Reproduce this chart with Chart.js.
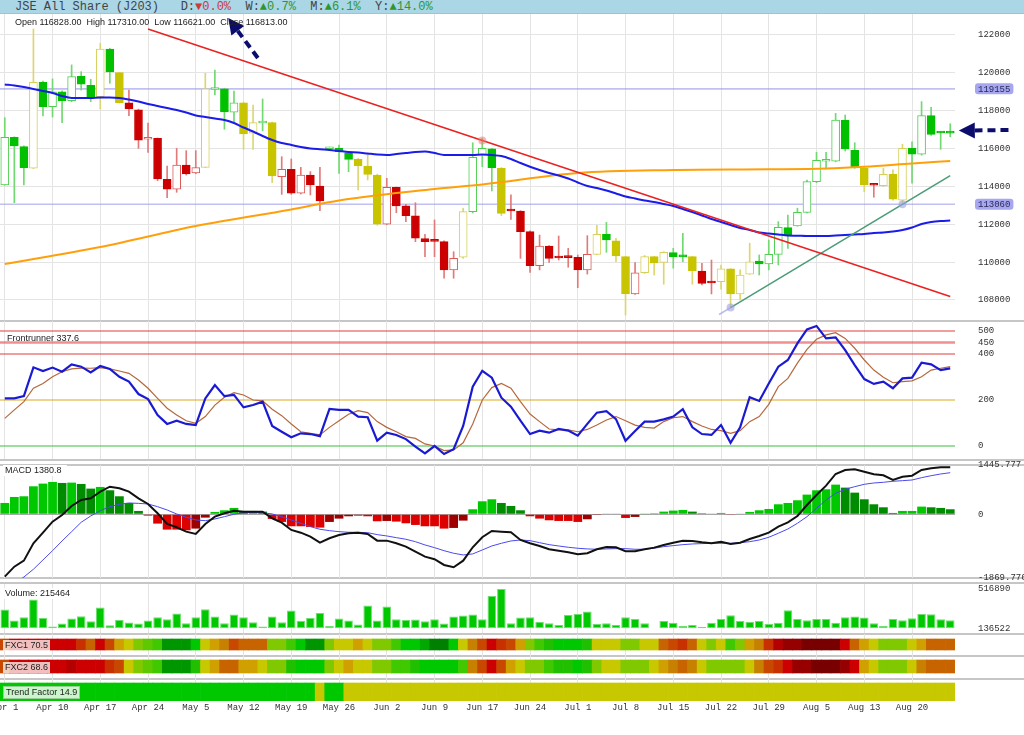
<!DOCTYPE html>
<html>
<head>
<meta charset="utf-8">
<script src="https://cdn.jsdelivr.net/npm/chart.js@4.4.1/dist/chart.umd.min.js"></script>
<style>
  body { margin: 0; width: 1024px; height: 735px; background: #fff; overflow: hidden; position: relative;
         font-family: "Liberation Sans", Arial, sans-serif; }
  #hdr { position: absolute; left: 0; top: 0; width: 1024px; height: 14px; background: #aad6e6;
         border-bottom: 1px solid #9cc4d4; box-sizing: border-box; padding-left: 15px;
         font: 12px/14px "Liberation Mono", "DejaVu Sans Mono", monospace; color: #444; white-space: pre; }
  #hdr .up { color: #2f962f; }
  #hdr .dn { color: #cc3a3a; }
  .sep { position: absolute; left: 0; width: 1024px; height: 2px; background: #c6c6c6; }
  .lbl { position: absolute; font-size: 9px; line-height: 11px; color: #222; white-space: pre; padding: 0 2px; }
  canvas { position: absolute; left: 0; }
</style>
</head>
<body>
<div id="hdr"></div>
<div class="sep" style="top:320px"></div>
<div class="sep" style="top:459px"></div>
<div class="sep" style="top:464px"></div>
<div class="sep" style="top:577px"></div>
<div class="sep" style="top:582px"></div>
<div class="sep" style="top:633px"></div>
<div class="sep" style="top:655px"></div>
<div class="sep" style="top:678px"></div>
<script>
// ---- data ----
const title = 'JSE All Share (J203)';
const changeNames = ['D', 'W', 'M', 'Y'];
const changeValues = [0.0, 0.7, 6.1, 14.0];
const changeDir = [-1, 1, 1, 1];

const tickLabels = ['Apr 1','Apr 10','Apr 17','Apr 24','May 5','May 12','May 19','May 26','Jun 2','Jun 9',
                    'Jun 17','Jun 24','Jul 1','Jul 8','Jul 15','Jul 22','Jul 29','Aug 5','Aug 13','Aug 20'];
const tickEvery = 5;

const opens = [114080,116600,116100,114960,119500,118210,119000,118530,119820,119340,
  118740,121260,120010,118410,118050,116490,116540,114380,113850,115130,
  114710,115010,119120,119150,117920,118420,116810,117350,117370,114510,
  114900,113640,114600,114020,115990,116010,115780,115430,115080,114600,
  112000,113950,112970,112440,111240,111110,111080,109590,110260,112670,
  115660,115980,114960,112720,112700,111610,109810,110850,110240,110260,
  110260,109590,110410,111470,111130,110290,108320,109440,110290,109990,
  110500,110300,110290,109530,108920,108970,109640,108320,109370,110060,
  109900,110410,111820,111910,112630,114250,115330,115340,117510,115910,
  114960,114080,114040,114640,113280,116010,115700,117740,116830,116828];
const highs = [117630,116620,116150,122320,119560,119680,119050,120420,120060,119660,
  121560,121300,120030,119090,118080,117340,116560,115080,116010,115890,
  115890,119980,120150,119180,119040,118450,118300,118620,117400,115570,
  115450,115010,114780,115010,116080,116190,115800,115480,115710,114650,
  114430,113970,113060,113140,111470,112230,111120,110550,112850,116310,
  116540,116010,115000,113550,112720,111650,111430,110870,111380,110730,
  110380,111400,111950,112100,111260,110300,109970,110350,110300,110550,
  110730,111520,110300,109940,110110,109850,109650,109590,111000,110380,
  111170,112140,112490,112850,114340,115800,115800,117860,117770,116310,
  115000,114130,114960,114870,116230,116360,118480,118180,116890,117310];
const lows = [114060,113140,114080,114940,117720,117670,117370,118480,119090,118480,
  118090,119450,118400,117740,116010,115800,114300,113400,113690,114600,
  114670,114990,118830,117020,117340,115960,115960,116940,114200,113580,
  113580,113600,113550,112720,115900,114690,114780,113810,114340,111950,
  111980,112610,112140,111080,110290,110290,109150,109150,110200,112600,
  115040,113760,112450,112260,110200,109460,109590,109990,110110,109730,
  108650,109370,110400,110520,110020,107210,108300,109400,109320,108830,
  109680,110020,108830,108790,108320,108570,107600,108000,109350,109320,
  109590,109850,110730,111900,112600,114200,114920,115300,115870,114960,
  113720,113430,114000,113280,113060,114170,115650,116700,115960,116621];
const closes = [116600,116140,114990,119500,118210,119000,118530,119800,119400,118740,
  121260,120050,118420,118090,116450,116570,114390,113860,115130,114660,
  114990,119150,119160,117930,118420,116770,117370,117370,114570,114900,
  113640,114600,114080,113230,116010,115840,115430,115100,114640,112010,
  113950,112970,112450,111260,111080,111100,109590,110200,112670,115540,
  116010,114990,112580,112700,111610,109810,110850,110200,110220,110240,
  109590,110410,111470,111170,110330,108320,109440,110290,109970,110520,
  110290,110280,109550,108880,108900,109640,108320,109320,110020,109900,
  110410,111840,111430,112630,114250,115380,115360,117510,115980,115040,
  114080,114060,114640,113320,116010,115700,117740,116750,116820,116813];
const candleTrend = ('gggygggggg' + 'ygyrrrrrrr' + 'rygggyygyr' + 'rrrrgggyyy' + 'rrrrrrrryg' +
                     'ggyrrrrrrr' + 'rrygyyryyy' + 'ggyrryyyyg' + 'gggggggggg' + 'yryyyggggg').split('');

const maBlue = [119385,119332,119253,119147,119042,118936,118778,118672,118672,118672,
  118698,118698,118672,118592,118487,118355,118249,118143,118038,117906,
  117747,117668,117589,117510,117351,117113,116902,116664,116453,116294,
  116189,116083,116004,115962,115925,115872,115819,115793,115740,115687,
  115660,115713,115766,115819,115845,115766,115660,115660,115660,115660,
  115687,115660,115607,115449,115238,115042,114868,114709,114577,114419,
  114208,114023,113917,113785,113627,113468,113362,113257,113178,113072,
  112966,112808,112649,112464,112279,112121,111962,111804,111698,111566,
  111513,111461,111408,111397,111381,111381,111381,111408,111434,111461,
  111487,111540,111566,111619,111698,111830,112015,112121,112174,112200];
const maOrangeIdx = [0, 10, 20, 30, 35, 45, 50, 60, 70, 80, 86, 90, 95, 99];
const maOrangeVal = [109902,110800,111910,112781,113257,113864,114102,114709,114868,114905,114947,115037,115211,115343];

const levelLines = [119155, 113060];
const resistLine = { idx: [15, 99], val: [122317, 108190] };
const supportLine = { idx: [76, 99], val: [107600, 114568] };
const supportStub = { idx: [74.8, 76], val: [107236, 107600] };
const touchIdx = [50, 76, 94];
const touchVal = [116430, 107600, 113060];
const touchKind = ['res', 'sup', 'sup'];
const arrows = [ { from: [26.5, 120785], to: [23.4, 122900] },
                 { from: [105.1, 116980], to: [99.9, 116950] } ];
const priceTicks = [108000, 110000, 112000, 114000, 116000, 118000, 120000, 122000];

const frBlue = [207,207,217,342,326,341,323,355,345,320,
  348,335,301,280,226,204,135,96,110,96,
  91,207,265,217,222,168,178,193,87,62,
  38,55,52,43,161,157,157,128,125,23,
  58,48,30,-3,-32,0,-35,-14,87,258,
  327,297,210,171,110,52,67,58,74,67,
  45,96,145,152,117,23,65,106,106,116,
  128,160,81,52,48,91,14,81,212,196,
  272,345,374,446,507,522,468,472,417,352,
  291,270,280,251,294,297,362,355,330,337.6];
const frBrown = [120,157,193,251,272,301,323,335,339,338,
  341,335,326,316,287,251,207,164,135,110,
  99,128,178,212,232,222,200,196,160,132,
  96,62,55,48,81,110,138,154,145,106,
  81,62,41,33,9,0,-20,-17,14,96,
  200,254,272,251,193,139,106,74,70,70,
  62,72,91,113,128,110,91,81,78,106,
  123,128,106,87,72,67,55,67,106,128,
  181,258,294,360,420,464,483,493,468,425,
  374,330,299,275,280,283,301,330,338,345];
const frLevels = [500, 450, 400, 200, 0];

const macdLine = [-1830,-1537,-1361,-851,-540,-217,-21,243,419,469,
  663,810,763,663,469,302,29,-284,-381,-510,
  -578,-284,-70,29,106,76,76,76,-117,-246,
  -460,-540,-657,-833,-704,-607,-557,-540,-578,-774,
  -774,-851,-950,-1097,-1244,-1320,-1487,-1554,-1361,-968,
  -675,-490,-510,-528,-754,-851,-930,-1027,-1068,-1115,
  -1173,-1144,-1027,-959,-968,-1085,-1085,-1027,-979,-900,
  -833,-774,-784,-821,-851,-804,-871,-833,-724,-636,
  -540,-364,-235,-50,273,566,839,1182,1299,1320,
  1249,1173,1144,1006,1103,1132,1299,1349,1379,1380.8];
const macdSignal = [-2160,-2045,-1840,-1613,-1340,-1068,-783,-510,-235,-50,
  106,223,293,331,320,302,223,126,9,-88,
  -167,-188,-138,-70,0,47,56,47,9,-70,
  -167,-264,-364,-440,-481,-510,-528,-528,-540,-597,
  -636,-686,-733,-804,-900,-979,-1068,-1144,-1194,-1164,
  -1047,-930,-851,-783,-754,-774,-833,-891,-930,-968,
  -997,-1017,-1027,-1017,-1008,-1008,-1027,-1027,-997,-950,
  -920,-891,-871,-861,-851,-851,-851,-833,-804,-754,
  -675,-557,-431,-264,-70,176,419,616,733,810,
  880,918,938,968,986,1006,1074,1132,1182,1220];
const macdHist = [332,508,528,821,900,948,919,929,890,753,
  802,704,528,332,98,-39,-274,-450,-450,-469,
  -420,-98,68,117,186,98,98,78,-137,-225,
  -352,-352,-372,-391,-225,-127,-59,-39,-59,-205,
  -196,-215,-264,-313,-352,-352,-420,-401,-186,147,
  381,440,332,244,117,-59,-127,-176,-196,-196,
  -225,-147,-5,20,20,-108,-78,5,29,78,
  108,127,78,29,10,39,-20,10,68,117,
  156,293,332,411,577,704,733,870,782,635,
  440,293,205,39,98,98,225,205,186,147];
const macdTicks = [-1869.776, 0, 1445.777];

const volume = [318900,211600,243800,416400,237000,153100,182400,231100,253600,204800,
  338400,165800,217500,192100,182400,211600,243800,224300,279900,185300,
  243800,321800,250600,185300,270100,243800,195000,153100,250600,195000,
  309100,208700,237000,285700,159000,231100,211600,172600,357900,211600,
  348200,224300,217500,220800,204800,224300,182400,250600,260400,270100,
  224300,448600,516890,185300,240200,243800,198000,185300,168700,266200,
  276000,298400,178500,185300,168700,243800,227200,185300,136522,207700,
  191100,159000,168700,149200,191100,227200,263300,207700,198000,207700,
  178500,191100,312100,227200,214500,227200,227200,191100,243800,249700,
  240200,185300,159000,227200,214500,234100,276000,273100,224300,215464];

const fxc1 = [5,3,3,3,3,3,3,3,4,6, 3,5,8,9,10,11,12,16,16,16, 14,9,8,7,5,6,6,6,10,10,
  12,14,16,16,10,9,9,8,9,10, 10,12,14,14,15,17,17,14,9,7, 5,3,4,5,8,10,12,13,14,14,
  14,13,9,9,9,10,10,9,9,6, 5,4,6,9,10,9,12,10,8,7, 4,2,1,1,0,0,0,0,3,6, 8,9,10,10,10,9,8,6,6,6];
const fxc2 = [5,3,3,3,3,3,3,2,3,3, 3,4,5,9,10,11,12,16,16,16, 13,9,8,6,6,8,8,9,10,10,
  13,14,14,14,10,9,8,9,9,10, 10,12,12,13,14,14,14,14,12,7, 5,3,5,8,9,10,10,12,13,13,
  14,13,10,9,9,10,10,10,9,8, 7,6,7,9,10,10,10,10,9,7, 5,4,3,1,1,0,0,0,1,3, 8,9,10,10,10,9,7,6,6,6];
const trendFactor = [14,14,14,14,14,14,14,14,14,14, 14,14,14,14,14,14,14,14,14,14, 14,14,14,14,14,14,14,14,14,14,
  14,14,14,9,14,14,9,9,9,9, 9,9,9,9,9,9,9,9,9,9, 9,9,9,9,9,9,9,9,9,9,
  9,9,9,9,9,9,9,9,9,9, 9,9,9,9,9,9,9,9,9,9, 9,9,9,9,9,9,9,9,9,9, 9,9,9,9,9,9,9,9,9,9];
const fxcLabels = ['FXC1 70.5', 'FXC2 68.6', 'Trend Factor 14.9'];

// ---- styles ----
const MONO = '"Liberation Mono", "DejaVu Sans Mono", monospace';
const palette = ['#780000','#960000','#b40000','#cc0000','#c83000','#c84800','#c86400','#c88000','#d0a000',
                 '#c8c800','#80c800','#60c800','#40c800','#20c000','#00c800','#00a800','#009600','#008000'];
const candleStyle = {
  g: { fill: '#00c000', line: '#4fcf4f', wick: '#72d872' },
  y: { fill: '#c8c400', line: '#d6d05a', wick: '#dcd672' },
  r: { fill: '#cc0000', line: '#dc5a5a', wick: '#e27a7a' }
};
const frLevelStyle = [['#e03c3c', 1.2], ['rgba(228,70,70,0.6)', 2.6], ['#e03c3c', 1.2], ['#dcaa1e', 1.2], ['#3cbc3c', 1.2]];

Chart.defaults.animation = false;
Chart.defaults.font.family = MONO;
Chart.defaults.font.size = 9;
Chart.defaults.color = '#333';

// ---- header and labels ----
document.getElementById('hdr').innerHTML = title + ' ' + changeNames.map((n, k) =>
  '  ' + n + ':<span class="' + (changeDir[k] < 0 ? 'dn' : 'up') + '">' +
  (changeDir[k] < 0 ? '\u25BC' : '\u25B2') + changeValues[k].toFixed(1) + '%</span>').join('');

const last = opens.length - 1;
function addLabel(text, left, top, extra) {
  const d = document.createElement('div');
  d.className = 'lbl';
  d.textContent = text;
  d.style.left = left + 'px';
  d.style.top = top + 'px';
  if (extra) Object.assign(d.style, extra);
  return d;
}
const overlays = [
  addLabel('Open ' + opens[last].toFixed(2) + '  High ' + highs[last].toFixed(2) + '  Low ' + lows[last].toFixed(2) +
           '  Close ' + closes[last].toFixed(2), 13, 17),
  addLabel('Frontrunner ' + frBlue[last].toFixed(1), 5, 333),
  addLabel('MACD ' + macdLine[last].toFixed(1), 3, 465, { background: '#fff', paddingRight: '5px' }),
  addLabel('Volume: ' + volume[last], 3, 588, { background: 'rgba(255,255,255,0.85)' }),
  addLabel(fxcLabels[0], 3, 640, { background: 'rgba(255,255,255,0.75)' }),
  addLabel(fxcLabels[1], 3, 662, { background: 'rgba(255,255,255,0.75)' }),
  addLabel(fxcLabels[2], 3, 686, { background: 'rgba(225,250,225,0.9)', border: '1px solid #9c9' })
];

// ---- helpers ----
const tickIdx = tickLabels.map((_, k) => k * tickEvery);
const xy = arr => arr.map((v, i) => ({ x: i, y: v }));
const pts = ln => ln.idx.map((t, k) => ({ x: t, y: ln.val[k] }));
const span = v => [{ x: -0.5, y: v }, { x: last + 0.5, y: v }];
const noPad = s => { s.paddingTop = 0; s.paddingBottom = 0; s.paddingLeft = 0; s.paddingRight = 0; };

function makeCanvas(top, height) {
  const c = document.createElement('canvas');
  c.width = 1024; c.height = height;
  c.style.top = top + 'px'; c.style.width = '1024px'; c.style.height = height + 'px';
  document.body.appendChild(c);
  return c;
}
function xAxis(labels) {
  return {
    type: 'linear', min: -0.5, max: last + 0.5, offset: false,
    afterBuildTicks: s => { s.ticks = tickIdx.map(v => ({ value: v })); },
    afterFit: s => { noPad(s); if (labels) s.height = 14; },
    grid: { color: '#e4e4e4', drawTicks: false, offset: false },
    border: { display: false },
    ticks: labels ? { display: true, padding: 1, autoSkip: false, maxRotation: 0, color: '#333',
                      font: { family: MONO, size: 9 }, callback: v => tickLabels[v / tickEvery] || '' }
                  : { display: false }
  };
}
function yAxis(min, max, ticks, fmt, gridColor, reverse) {
  return {
    position: 'right', min, max, reverse: !!reverse,
    afterFit: s => { noPad(s); s.width = 69; },
    afterBuildTicks: s => { s.ticks = ticks.map(v => ({ value: v })); },
    grid: { display: !!gridColor, color: gridColor, drawTicks: false },
    border: { display: false },
    ticks: fmt ? { padding: 23, color: '#333', font: { family: MONO, size: 9 }, callback: fmt } : { display: false }
  };
}
function opts(x, y, padTop, padBottom) {
  return {
    responsive: false, animation: false,
    layout: { autoPadding: false, padding: { top: padTop, bottom: padBottom, left: 0, right: 0 } },
    plugins: { legend: { display: false }, tooltip: { enabled: false } },
    scales: { x, y }
  };
}

// ---- price panel ----
const priceDecor = {
  id: 'priceDecor',
  afterDraw(chart) {
    const { ctx, chartArea, scales: { x, y } } = chart;
    ctx.save();
    ctx.font = '9px ' + MONO;
    ctx.textBaseline = 'middle';
    levelLines.forEach(v => {
      const py = y.getPixelForValue(v);
      const txt = String(v);
      const w = ctx.measureText(txt).width + 6;
      const bx = chartArea.right + 20;
      ctx.fillStyle = 'rgba(150,150,238,0.85)';
      ctx.beginPath();
      ctx.roundRect(bx, py - 5.5, w, 11, 3);
      ctx.fill();
      ctx.fillStyle = '#2a2a55';
      ctx.fillText(txt, bx + 3, py + 0.5);
    });
    ctx.strokeStyle = '#0c0c6c';
    ctx.fillStyle = '#0c0c6c';
    arrows.forEach(a => {
      const x1 = x.getPixelForValue(a.from[0]), y1 = y.getPixelForValue(a.from[1]);
      const x2 = x.getPixelForValue(a.to[0]), y2 = y.getPixelForValue(a.to[1]);
      const ang = Math.atan2(y2 - y1, x2 - x1);
      const head = 16, half = 8;
      const bx = x2 - head * Math.cos(ang), by = y2 - head * Math.sin(ang);
      ctx.lineWidth = 4;
      ctx.setLineDash([8, 5]);
      ctx.beginPath(); ctx.moveTo(x1, y1); ctx.lineTo(bx, by); ctx.stroke();
      ctx.setLineDash([]);
      ctx.beginPath();
      ctx.moveTo(x2, y2);
      ctx.lineTo(bx + half * Math.sin(ang), by - half * Math.cos(ang));
      ctx.lineTo(bx - half * Math.sin(ang), by + half * Math.cos(ang));
      ctx.closePath(); ctx.fill();
    });
    ctx.restore();
  }
};

const isFilled = i => closes[i] < opens[i];
new Chart(makeCanvas(8, 318), {
  type: 'bar',
  data: { datasets: [
    { type: 'line', data: touchIdx.map((t, k) => ({ x: t, y: touchVal[k] })), showLine: false, pointRadius: 4,
      pointBorderWidth: 0, order: 0,
      pointBackgroundColor: touchKind.map(k => k === 'res' ? 'rgba(240,120,120,0.55)' : 'rgba(160,160,225,0.6)') },
    { type: 'line', data: pts(resistLine), borderColor: '#ee2020', borderWidth: 1.6, pointRadius: 0, order: 1 },
    { type: 'line', data: pts(supportLine), borderColor: '#4c9c78', borderWidth: 1.6, pointRadius: 0, order: 1 },
    { type: 'line', data: pts(supportStub), borderColor: 'rgba(170,170,230,0.8)', borderWidth: 1.6, pointRadius: 0, order: 1 },
    { type: 'line', data: xy(maBlue), borderColor: '#1c1ce8', borderWidth: 2, pointRadius: 0,
      cubicInterpolationMode: 'monotone', order: 2 },
    { type: 'line', data: maOrangeIdx.map((t, k) => ({ x: t, y: maOrangeVal[k] })), borderColor: '#ffa00a',
      borderWidth: 2, pointRadius: 0, cubicInterpolationMode: 'monotone', order: 2 },
    { type: 'bar', data: opens.map((o, i) => ({ x: i, y: [o, closes[i]] })), grouped: false, order: 3,
      barThickness: 8, minBarLength: 2, borderWidth: 1, borderSkipped: false,
      backgroundColor: opens.map((o, i) => isFilled(i) ? candleStyle[candleTrend[i]].fill : '#ffffff'),
      borderColor: opens.map((o, i) => isFilled(i) ? candleStyle[candleTrend[i]].fill : candleStyle[candleTrend[i]].line) },
    { type: 'bar', data: lows.map((l, i) => ({ x: i, y: [l, highs[i]] })), grouped: false, order: 4,
      barThickness: 1, backgroundColor: lows.map((l, i) => candleStyle[candleTrend[i]].wick) },
    ...levelLines.map(v => ({ type: 'line', data: span(v), borderColor: 'rgba(150,150,235,0.6)', borderWidth: 1.6,
      pointRadius: 0, order: 5 }))
  ] },
  options: opts(xAxis(false), yAxis(106943, 123109, priceTicks, v => String(v), '#e4e4e4'), 6, 6),
  plugins: [priceDecor]
});

// ---- frontrunner panel ----
new Chart(makeCanvas(315, 150), {
  type: 'line',
  data: { datasets: [
    { data: xy(frBlue), borderColor: '#1a1ad2', borderWidth: 2.2, pointRadius: 0, order: 0 },
    { data: xy(frBrown), borderColor: '#b5683c', borderWidth: 1.2, pointRadius: 0, order: 1 },
    ...frLevels.map((v, k) => ({ data: span(v), borderColor: frLevelStyle[k][0], borderWidth: frLevelStyle[k][1],
      pointRadius: 0, order: 2 }))
  ] },
  options: opts(xAxis(false), yAxis(-56.5, 543.5, frLevels, v => String(v), null), 6, 6)
});

// ---- MACD panel ----
const histColor = macdHist.map((v, i) => {
  const prev = i ? macdHist[i - 1] : v;
  if (v >= 0) return v >= prev ? '#00c800' : '#008c00';
  return v <= prev ? '#dd0000' : '#9e0000';
});
const macdY = yAxis(macdTicks[0], macdTicks[2], macdTicks, v => v === 0 ? '0' : v.toFixed(3), '#aaa');
macdY.grid.color = c => (c.tick && c.tick.value === 0) ? '#a8a8a8' : 'rgba(0,0,0,0)';
new Chart(makeCanvas(459, 125), {
  type: 'bar',
  data: { datasets: [
    { type: 'line', data: xy(macdLine), borderColor: '#111', borderWidth: 2, pointRadius: 0, order: 0 },
    { type: 'line', data: xy(macdSignal), borderColor: '#4a4aee', borderWidth: 1, pointRadius: 0, order: 1 },
    { type: 'bar', data: xy(macdHist), backgroundColor: histColor, barPercentage: 0.92, categoryPercentage: 1,
      grouped: false, order: 2 }
  ] },
  options: opts(xAxis(false), macdY, 6, 6)
});

// ---- volume panel ----
const volMin = Math.min(...volume), volMax = Math.max(...volume);
new Chart(makeCanvas(578, 61), {
  type: 'bar',
  data: { datasets: [
    { data: xy(volume), base: volMin, backgroundColor: '#00c800', borderColor: '#6ede6e', borderWidth: 1,
      borderSkipped: false, barPercentage: 0.9, categoryPercentage: 1, grouped: false }
  ] },
  options: opts(xAxis(false), yAxis(91031, 565285, [volMin, volMax], v => String(v), null), 6, 6)
});

// ---- FXC1 / FXC2 / Trend Factor strips + date axis ----
const strip = (levels, y0, y1) => ({
  data: levels.map((l, i) => ({ x: i, y: [y0, y1] })), backgroundColor: levels.map(l => palette[l]),
  barPercentage: 1, categoryPercentage: 1, grouped: false, borderWidth: 0
});
new Chart(makeCanvas(634, 81), {
  type: 'bar',
  data: { datasets: [ strip(fxc1, 5, 16), strip(fxc2, 26, 39), strip(trendFactor, 49, 67) ] },
  options: opts(xAxis(true), yAxis(0, 67, [], null, null, true), 0, 0)
});

overlays.forEach(d => document.body.appendChild(d));
</script>
</body>
</html>
